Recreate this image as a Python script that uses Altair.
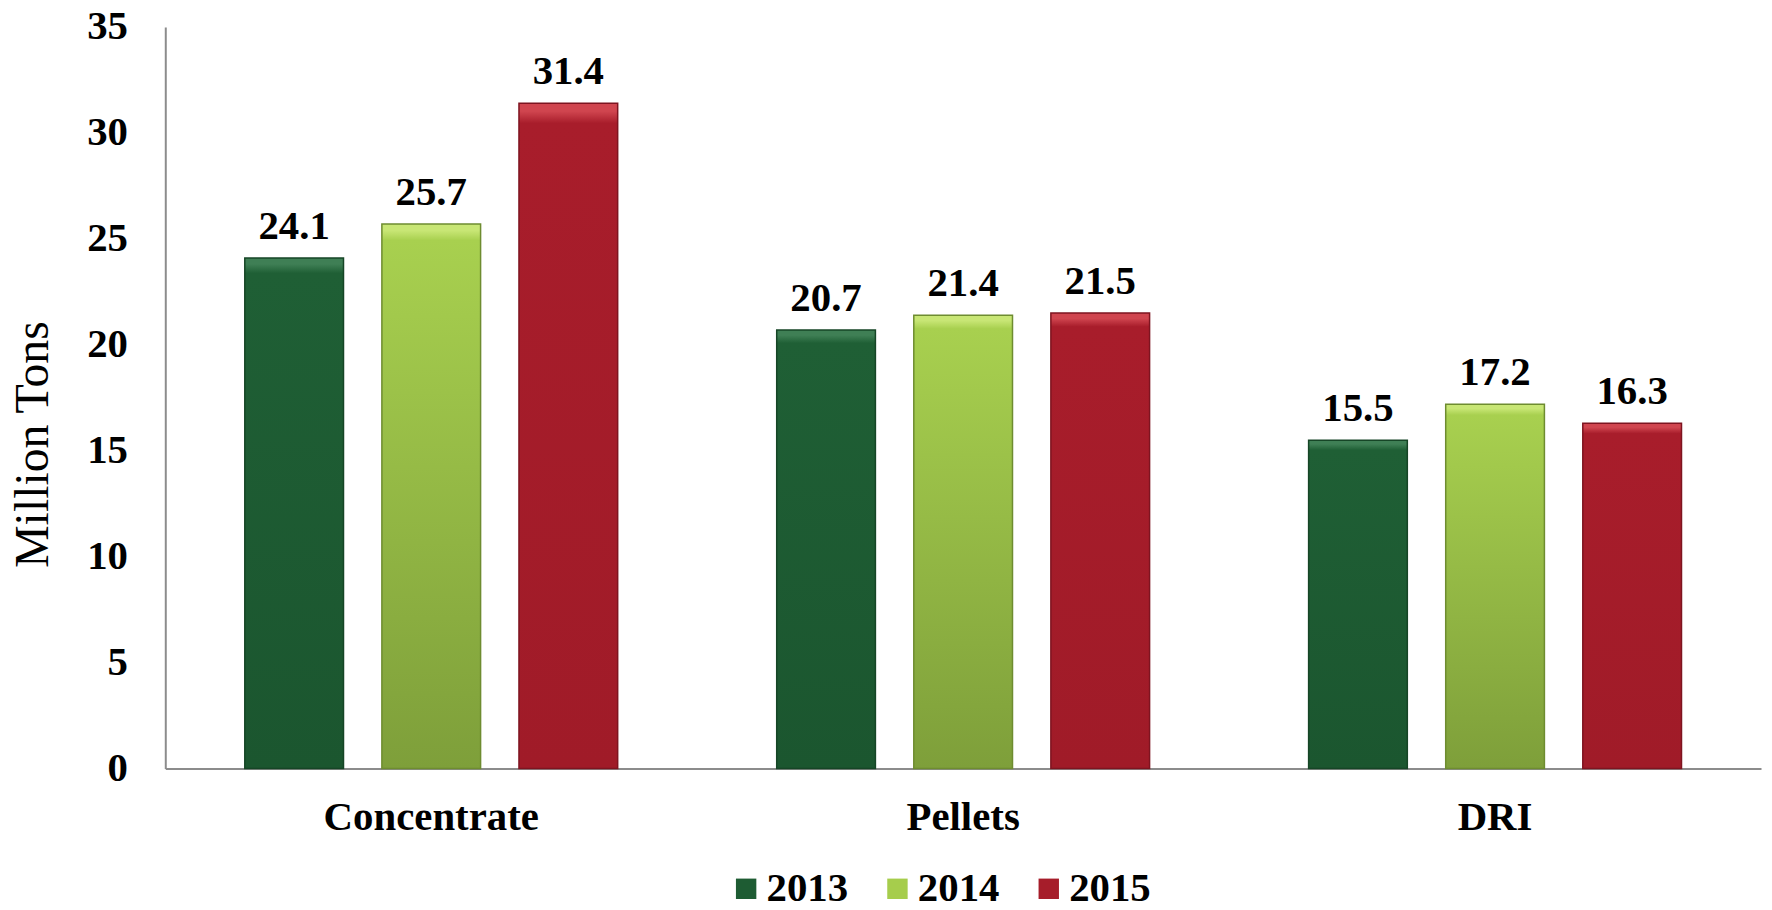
import altair as alt
import pandas as pd

categories = ["Concentrate", "Pellets", "DRI"]
years = ["2013", "2014", "2015"]
values_2013 = [24.1, 20.7, 15.5]
values_2014 = [25.7, 21.4, 17.2]
values_2015 = [31.4, 21.5, 16.3]
colors = ["#1E5C33", "#A6CD4C", "#A61D2A"]
bevel = ["#3F7F55", "#C8E675", "#D0454F"]
grad_top = ["#1F5F35", "#A8D04F", "#A81D2B"]
grad_bottom = ["#1B562F", "#7E9F3A", "#A01B28"]
strokes = ["#164526", "#6E8C30", "#7E1420"]

rows = []
for yr, vals in zip(years, [values_2013, values_2014, values_2015]):
    for c, v in zip(categories, vals):
        rows.append({"Product": c, "Year": yr, "Value": v})
df = pd.DataFrame(rows)

FONT = "Liberation Serif"
FS = 41

x_enc = alt.X(
    "Product:N",
    sort=categories,
    scale=alt.Scale(domain=categories, paddingInner=0, paddingOuter=0),
    axis=alt.Axis(
        title=None,
        labelAngle=0,
        labelFont=FONT,
        labelFontSize=FS,
        labelFontWeight="bold",
        labelColor="black",
        labelPadding=61,
        labelBaseline="alphabetic",
        labelLimit=0,
        ticks=False,
        tickSize=0,
        grid=False,
        domainColor="#8c8c8c",
        domainWidth=2,
    ),
)
xoff_enc = alt.XOffset(
    "Year:N",
    sort=years,
    scale=alt.Scale(domain=years, paddingInner=0.28, paddingOuter=0.58),
)
y_enc = alt.Y(
    "Value:Q",
    scale=alt.Scale(domain=[0, 35], nice=False, zero=True),
    axis=alt.Axis(
        title="Million Tons",
        titleFont=FONT,
        titleFontSize=48,
        titleFontWeight="normal",
        titleColor="black",
        titleX=-118,
        titleY=419,
        titleAlign="center",
        titleBaseline="alphabetic",
        values=list(range(0, 36, 5)),
        labelFont=FONT,
        labelFontSize=FS,
        labelFontWeight="bold",
        labelColor="black",
        labelPadding=38,
        ticks=False,
        tickSize=0,
        grid=False,
        domainColor="#8c8c8c",
        domainWidth=2,
    ),
)

base = alt.Chart(df).mark_bar().encode(
    x=x_enc,
    xOffset=xoff_enc,
    y=y_enc,
    color=alt.Color(
        "Year:N",
        sort=years,
        scale=alt.Scale(domain=years, range=colors),
        legend=alt.Legend(
            title=None,
            orient="none",
            legendX=563,
            legendY=845,
            direction="horizontal",
            symbolType="square",
            symbolSize=420,
            symbolStrokeWidth=0,
            labelFont=FONT,
            labelFontSize=FS,
            labelFontWeight="bold",
            labelColor="black",
            labelOffset=0,
            columnPadding=29,
            padding=0,
        ),
    ),
)

overlays = []
for i, yr in enumerate(years):
    grad = alt.Gradient(
        gradient="linear",
        x1=0, x2=0, y1=0, y2=1,
        stops=[
            alt.GradientStop(color=bevel[i], offset=0),
            alt.GradientStop(color=bevel[i], offset=0.012),
            alt.GradientStop(color=grad_top[i], offset=0.03),
            alt.GradientStop(color=grad_bottom[i], offset=1),
        ],
    )
    overlays.append(
        alt.Chart(df)
        .transform_filter(alt.datum.Year == yr)
        .mark_bar(fill=grad, stroke=strokes[i], strokeWidth=1.5)
        .encode(x=x_enc, xOffset=xoff_enc, y=y_enc)
    )

labels = alt.Chart(df).mark_text(
    dy=-19,
    baseline="alphabetic",
    font=FONT,
    fontSize=FS,
    fontWeight="bold",
    color="black",
).encode(
    x=x_enc,
    xOffset=xoff_enc,
    y=y_enc,
    text=alt.Text("Value:Q", format=".1f"),
)

chart = (
    alt.layer(base, *overlays, labels)
    .properties(
        width=1603,
        height=745,
        autosize=alt.AutoSizeParams(type="none"),
        padding={"left": 158, "top": 17, "right": 3, "bottom": 140},
        background="white",
    )
    .configure_view(stroke=None)
)

chart.save("out.html", embed_options={"renderer": "svg", "actions": False})
